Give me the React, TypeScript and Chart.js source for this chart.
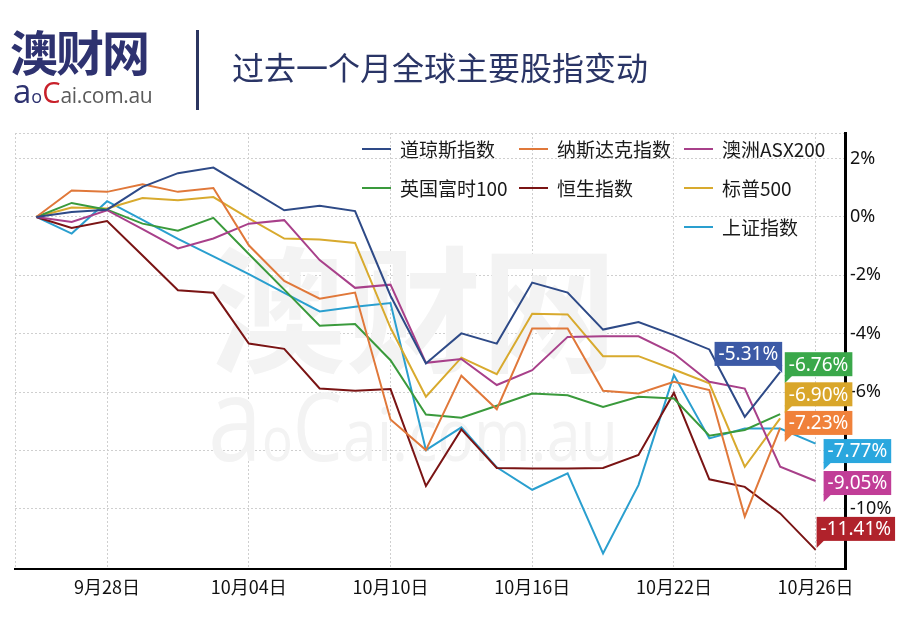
import React, { useEffect, useRef } from "react";
import { Chart, registerables } from "chart.js";
Chart.register(...registerables);

// ---------- data ----------
const dateLabels = [
  "9月26日", "9月27日", "9月28日", "10月01日", "10月02日", "10月03日", "10月04日",
  "10月05日", "10月08日", "10月09日", "10月10日", "10月11日", "10月12日", "10月15日",
  "10月16日", "10月17日", "10月18日", "10月19日", "10月22日", "10月23日", "10月24日",
  "10月25日", "10月26日",
];
const xTickIndices = [2, 6, 10, 14, 18, 22];
const yTickValues = [-10, -8, -6, -4, -2, 0, 2];

const seriesNames = ["道琼斯指数", "纳斯达克指数", "澳洲ASX200", "英国富时100", "恒生指数", "标普500", "上证指数"];

const dowJones = [0, 0.17, 0.25, 1.03, 1.5, 1.69, 0.96, 0.23, 0.38, 0.2, -2.7, -5.02, -3.99, -4.34, -2.25, -2.59, -3.86, -3.6, -4.05, -4.54, -6.85, -5.31, null];
const nasdaq = [0, 0.91, 0.86, 1.12, 0.86, 0.99, -0.97, -2.19, -2.8, -2.59, -6.94, -7.99, -5.44, -6.59, -3.82, -3.82, -5.96, -6.05, -5.65, -5.93, -10.27, -7.23, null];
const asx200 = [0, -0.17, 0.23, -0.42, -1.08, -0.74, -0.23, -0.11, -1.48, -2.43, -2.32, -5.0, -4.87, -5.76, -5.25, -4.11, -4.09, -4.09, -4.68, -5.65, -5.88, -8.56, -9.05];
const ftse100 = [0, 0.48, 0.25, -0.23, -0.47, -0.03, -1.27, -2.49, -3.73, -3.67, -4.91, -6.77, -6.88, -6.47, -6.05, -6.11, -6.51, -6.16, -6.22, -7.5, -7.3, -6.76, null];
const hangSeng = [0, -0.38, -0.14, -1.32, -2.51, -2.6, -4.34, -4.52, -5.88, -5.96, -5.9, -9.22, -7.28, -8.6, -8.62, -8.62, -8.6, -8.16, -6.03, -8.99, -9.25, -10.16, -11.41];
const sp500 = [0, 0.32, 0.29, 0.65, 0.57, 0.68, -0.05, -0.74, -0.77, -0.89, -3.8, -6.16, -4.82, -5.39, -3.32, -3.34, -4.77, -4.77, -5.23, -5.7, -8.56, -6.9, null];
const shanghai = [0, -0.57, 0.54, -0.1, -0.75, -1.35, -1.96, -2.6, -3.24, -3.08, -2.95, -7.99, -7.21, -8.58, -9.35, -8.79, -11.53, -9.19, -5.42, -7.59, -7.25, -7.25, -7.77];

const seriesValues = [dowJones, nasdaq, asx200, ftse100, hangSeng, sp500, shanghai];

// ---------- styles ----------
const lineColors = ["#2e4a87", "#e0783a", "#a8408a", "#3a9a3c", "#7a1414", "#d8aa2e", "#2a9fcf"];
const labelColors = ["#3c5aa6", "#f0813a", "#c13d97", "#3aa84a", "#b0222b", "#d9a62a", "#2aa7de"];
// end label box placement relative to last point
const labelPlacement = [
  { anchor: "right", dx: 2, dy: -30, tail: "right" },
  { anchor: "left", dx: 4.6, dy: -17, tail: "left" },
  { anchor: "left", dx: 8, dy: -10, tail: "left" },
  { anchor: "left", dx: 4.6, dy: -62, tail: "left" },
  { anchor: "left", dx: 1, dy: -33, tail: "left" },
  { anchor: "left", dx: 4.6, dy: -36, tail: "left" },
  { anchor: "left", dx: 8, dy: -4.6, tail: "left" },
];
const legendPos = [
  [0, 0], [1, 0], [2, 0], [0, 1], [1, 1], [2, 1], [2, 2],
];
const legendColX = [362, 519, 684];
const legendRowY = [149, 188, 227];

const CJK = '"Noto Sans CJK SC", "Noto Sans", sans-serif';

const watermarkPlugin = {
  id: "watermark",
  beforeDatasetsDraw(chart: any) {
    const ctx = chart.ctx as CanvasRenderingContext2D;
    ctx.save();
    ctx.fillStyle = "#f3f3f3";
    ctx.textBaseline = "alphabetic";
    ctx.font = `bold 136px ${CJK}`;
    const w1 = ctx.measureText("澳财网").width;
    ctx.translate(210, 362);
    ctx.scale(407 / w1, 1);
    ctx.fillText("澳财网", 0, 0);
    ctx.restore();

    ctx.save();
    ctx.fillStyle = "#f3f3f3";
    const parts: [string, number][] = [["a", 118], ["o", 62], ["C", 96], ["ai.com.au", 74]];
    let total = 0;
    for (const [t, s] of parts) {
      ctx.font = `${s}px "Open Sans", sans-serif`;
      total += ctx.measureText(t).width;
    }
    ctx.translate(208, 461);
    ctx.scale(410 / total, 1);
    let x = 0;
    for (const [t, s] of parts) {
      ctx.font = `${s}px "Open Sans", sans-serif`;
      ctx.fillText(t, x, 0);
      x += ctx.measureText(t).width;
    }
    ctx.restore();
  },
};

const overlayPlugin = {
  id: "overlay",
  afterDraw(chart: any) {
    const ctx = chart.ctx as CanvasRenderingContext2D;
    // legend
    ctx.save();
    ctx.font = `19px ${CJK}`;
    ctx.textBaseline = "middle";
    seriesNames.forEach((name, i) => {
      const [c, r] = legendPos[i];
      const x = legendColX[c];
      const y = legendRowY[r];
      ctx.strokeStyle = lineColors[i];
      ctx.lineWidth = 2;
      ctx.beginPath();
      ctx.moveTo(x, y);
      ctx.lineTo(x + 29, y);
      ctx.stroke();
      ctx.fillStyle = "#1a1a1a";
      ctx.fillText(name, x + 38, y + 1);
    });
    ctx.restore();

    // end labels
    ctx.save();
    ctx.font = `19px "Noto Sans", sans-serif`;
    ctx.textBaseline = "middle";
    chart.data.datasets.forEach((ds: any, i: number) => {
      const meta = chart.getDatasetMeta(i);
      const pts = meta.data;
      const pt = pts[pts.length - 1];
      const raw = ds.data[ds.data.length - 1].y as number;
      const text = raw.toFixed(2) + "%";
      const tw = ctx.measureText(text).width;
      const bw = tw + 8;
      const bh = 24;
      const pl = labelPlacement[i];
      const left = pl.anchor === "right" ? pt.x + pl.dx - bw : pt.x + pl.dx;
      const top = pt.y + pl.dy;
      ctx.fillStyle = labelColors[i];
      ctx.fillRect(left, top, bw, bh);
      ctx.beginPath();
      if (pl.tail === "left") {
        ctx.moveTo(left, top + bh - 1);
        ctx.lineTo(left, top + bh + 7);
        ctx.lineTo(left + 8, top + bh - 1);
      } else {
        ctx.moveTo(left + bw, top + bh - 1);
        ctx.lineTo(left + bw, top + bh + 7);
        ctx.lineTo(left + bw - 8, top + bh - 1);
      }
      ctx.closePath();
      ctx.fill();
      ctx.fillStyle = "#ffffff";
      ctx.fillText(text, left + 4, top + bh / 2 + 1);
    });
    ctx.restore();
  },
};

export default function App() {
  const ref = useRef<HTMLCanvasElement>(null);
  useEffect(() => {
    document.body.style.margin = "0";
    const canvas = ref.current!;
    const chart = new Chart(canvas, {
      type: "line",
      data: {
        datasets: seriesValues.map((vals, i) => ({
          label: seriesNames[i],
          data: vals.flatMap((v, j) => (v === null ? [] : [{ x: j, y: v }])),
          borderColor: lineColors[i],
          backgroundColor: lineColors[i],
          borderWidth: 2,
          pointRadius: 0,
          tension: 0,
          fill: false,
        })),
      },
      options: {
        responsive: false,
        animation: false,
        devicePixelRatio: 1,
        layout: { padding: { left: 15, top: 133, right: 0, bottom: 0 } },
        plugins: { legend: { display: false }, tooltip: { enabled: false } },
        scales: {
          x: {
            type: "linear",
            min: -0.6,
            max: 22.83,
            afterBuildTicks: (s: any) => {
              s.ticks = [{ value: -0.6 }, ...xTickIndices.map((v) => ({ value: v }))];
            },
            afterFit: (s: any) => {
              s.height = 54;
            },
            ticks: {
              autoSkip: false,
              maxRotation: 0,
              padding: 7,
              color: "#111",
              font: { family: CJK, size: 18 },
              callback: (v: any) => (xTickIndices.includes(v) ? dateLabels[v] : ""),
            },
            grid: { color: "#cfcfcf", lineWidth: 1, drawTicks: false },
            border: { display: true, color: "#000", width: 2, dash: [2, 2] },
          },
          y: {
            type: "linear",
            position: "right",
            min: -12.065,
            max: 2.877,
            afterBuildTicks: (s: any) => {
              s.ticks = [...yTickValues.map((v) => ({ value: v })), { value: 2.877 }];
            },
            afterFit: (s: any) => {
              s.width = 62;
            },
            ticks: {
              autoSkip: false,
              padding: 5,
              color: "#111",
              font: { family: '"Noto Sans", sans-serif', size: 18 },
              callback: (v: any) => (yTickValues.includes(v) ? v + "%" : ""),
            },
            grid: { color: "#cfcfcf", lineWidth: 1, drawTicks: false },
            border: { display: true, color: "#000", width: 3, dash: [2, 2] },
          },
        },
      },
      plugins: [watermarkPlugin, overlayPlugin],
    } as any);
    return () => chart.destroy();
  }, []);

  return (
    <div style={{ position: "fixed", left: 0, top: 0, width: 907, height: 623, background: "#fff", overflow: "hidden" }}>
      <canvas ref={ref} width={907} height={623} style={{ position: "absolute", left: 0, top: 0 }} />
      <div
        style={{
          position: "absolute",
          left: 10,
          top: 20,
          fontFamily: CJK,
          fontWeight: 700,
          fontSize: 48,
          lineHeight: "60px",
          color: "#2e3270",
          letterSpacing: -2,
          whiteSpace: "nowrap",
        }}
      >
        澳财网
      </div>
      <div
        style={{
          position: "absolute",
          left: 13,
          top: 74,
          display: "flex",
          alignItems: "baseline",
          fontFamily: '"Open Sans", sans-serif',
          lineHeight: "34px",
          whiteSpace: "nowrap",
        }}
      >
        <span style={{ fontSize: 33, color: "#2e3270" }}>a</span>
        <span style={{ fontSize: 18, color: "#2e3270" }}>o</span>
        <span style={{ fontSize: 29, color: "#c8202a" }}>C</span>
        <span style={{ fontSize: 21, color: "#5a5a5a", letterSpacing: -0.3 }}>ai.com.au</span>
      </div>
      <div style={{ position: "absolute", left: 196, top: 30, width: 3, height: 80, background: "#2b3560" }} />
      <div
        style={{
          position: "absolute",
          left: 232,
          top: 44,
          fontFamily: CJK,
          fontSize: 32,
          lineHeight: "44px",
          color: "#2a3566",
          whiteSpace: "nowrap",
        }}
      >
        过去一个月全球主要股指变动
      </div>
    </div>
  );
}
